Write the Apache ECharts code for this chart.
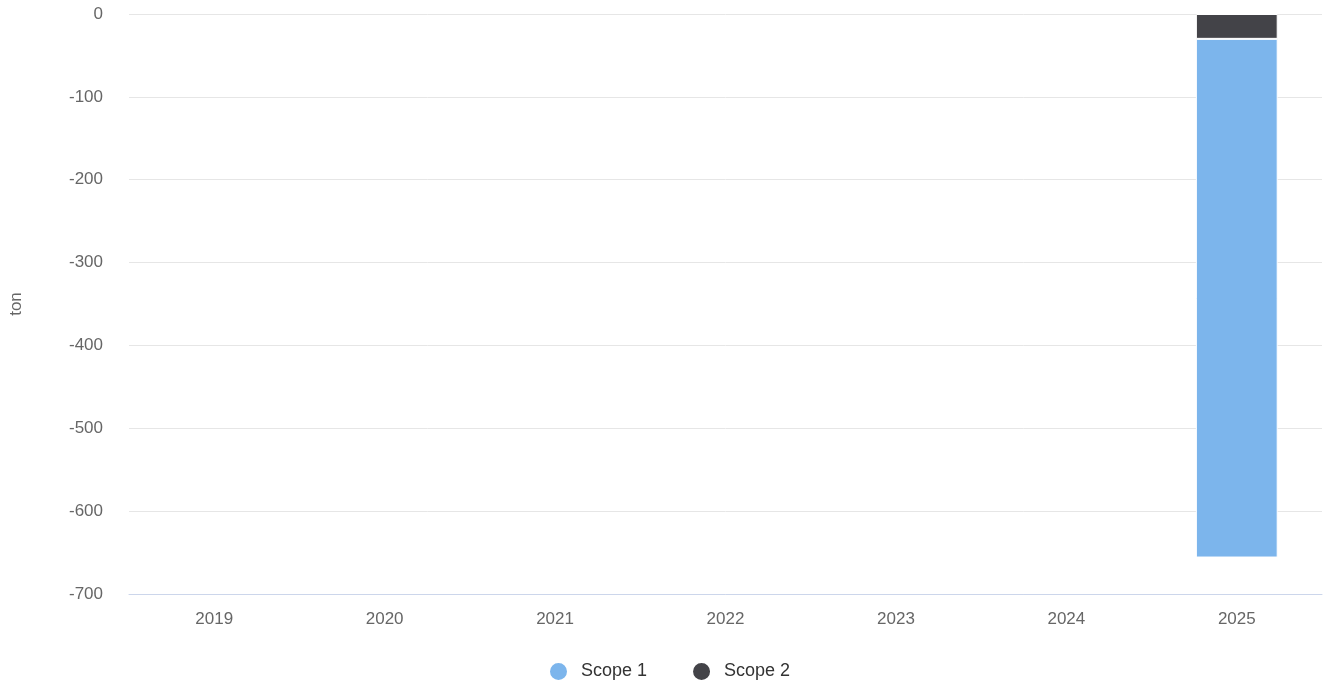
<!DOCTYPE html>
<html>
<head>
<meta charset="utf-8">
<script src="https://cdn.jsdelivr.net/npm/echarts@6/dist/echarts.min.js"></script>
<style>html,body{margin:0;padding:0;background:#fff;}#c{width:1323px;height:684px;}</style>
</head>
<body>
<div id="c"></div>
<script>
var categories = ['2019', '2020', '2021', '2022', '2023', '2024', '2025'];
var scope1 = [null, null, null, null, null, null, -626];
var scope2 = [null, null, null, null, null, null, -30];
var yTicks = {min: -700, max: 0, interval: 100};

var chart = echarts.init(document.getElementById('c'));
chart.setOption({
  animation: false,
  textStyle: {fontFamily: 'Liberation Sans, Arial, sans-serif'},
  grid: {left: 128, right: 1, top: 14, bottom: 90},
  legend: {
    top: 656,
    left: 543,
    icon: 'circle',
    itemWidth: 19,
    itemHeight: 19,
    itemGap: 44,
    data: ['Scope 1', 'Scope 2'],
    textStyle: {fontSize: 18, color: '#333333', padding: [0, 0, 0, 8]}
  },
  xAxis: {
    type: 'category',
    data: categories,
    axisLine: {onZero: false, lineStyle: {color: '#ccd6eb', width: 1}},
    axisTick: {show: false},
    axisLabel: {fontSize: 17, color: '#666666', margin: 17}
  },
  yAxis: {
    type: 'value',
    min: yTicks.min,
    max: yTicks.max,
    interval: yTicks.interval,
    name: 'ton',
    nameLocation: 'middle',
    nameGap: 104,
    nameRotate: 90,
    nameTextStyle: {fontSize: 17, color: '#666666'},
    axisLine: {show: false},
    axisTick: {show: false},
    splitLine: {lineStyle: {color: '#e6e6e6', width: 1}},
    axisLabel: {fontSize: 17, color: '#666666', margin: 26}
  },
  series: [
    {
      name: 'Scope 2',
      type: 'bar',
      stack: 'total',
      data: scope2,
      barWidth: '48%',
      itemStyle: {color: '#434348', borderColor: '#ffffff', borderWidth: 1}
    },
    {
      name: 'Scope 1',
      type: 'bar',
      stack: 'total',
      data: scope1,
      barWidth: '48%',
      itemStyle: {color: '#7cb5ec', borderColor: '#ffffff', borderWidth: 1}
    }
  ]
});
</script>
</body>
</html>
